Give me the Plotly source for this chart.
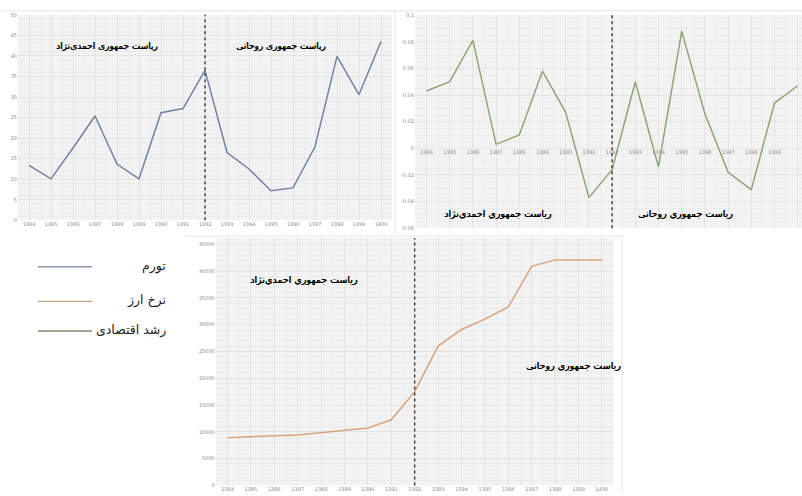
import plotly.graph_objects as go

# Iranian calendar years
years = list(range(1384, 1401))

# Inflation rate (%)
inflation = [13.4, 10.1, 17.6, 25.4, 13.7, 10.1, 26.2, 27.2, 36.5,
             16.5, 12.5, 7.2, 7.9, 17.9, 39.9, 30.6, 43.5]

# Economic growth rate
growth = [0.043, 0.050, 0.081, 0.003, 0.010, 0.058, 0.027, -0.037, -0.016,
          0.050, -0.014, 0.088, 0.026, -0.018, -0.031, 0.034, 0.047]

# Exchange rate (rial per USD)
exchange = [8900, 9150, 9280, 9400, 9830, 10260, 10700, 12250, 17500,
            26000, 29100, 31050, 33300, 40900, 42100, 42100, 42100]

legend_labels = ["تورم", "نرخ ارز", "رشد اقتصادی"]
era_ahmadinejad = "ریاست جمهوری احمدی\u200cنژاد"
era_rouhani = "ریاست جمهوری روحانی"
split_year = 1392

W, H = 802, 496
C_INF = "#7082a6"
C_EXR = "#d9a47c"
C_GRW = "#8ea574"
PLOT_BG = "#f3f3f3"
GRID = "#e3e3e3"
GRID_MINOR = "#ececec"
TICK_FONT = dict(family="DejaVu Sans", size=5, color="#8a8a8a")
ARABIC_FONT = "DejaVu Sans"


def px(x):
    return x / W


def py(y):
    return 1 - y / H


fig = go.Figure()
fig.add_trace(go.Scatter(x=years, y=inflation, mode="lines",
                         line=dict(color=C_INF, width=1.5),
                         xaxis="x", yaxis="y", showlegend=False))
fig.add_trace(go.Scatter(x=years, y=growth, mode="lines",
                         line=dict(color=C_GRW, width=1.5),
                         xaxis="x2", yaxis="y2", showlegend=False))
fig.add_trace(go.Scatter(x=years, y=exchange, mode="lines",
                         line=dict(color=C_EXR, width=1.5),
                         xaxis="x3", yaxis="y3", showlegend=False))


def xaxis_common(**kw):
    d = dict(tickmode="array", tickvals=years, ticktext=[str(v) for v in years],
             tickfont=TICK_FONT, showgrid=True, gridcolor=GRID, gridwidth=0.6,
             minor=dict(dtick=0.5, tick0=1383.5, showgrid=True,
                        gridcolor=GRID_MINOR, gridwidth=0.5),
             zeroline=False, showline=False, ticks="", fixedrange=True)
    d.update(kw)
    return d


def yaxis_common(**kw):
    d = dict(tickfont=TICK_FONT, showgrid=True, gridcolor=GRID, gridwidth=0.6,
             zeroline=False, showline=False, ticks="", fixedrange=True)
    d.update(kw)
    return d


# top-left: inflation
x1_left, x1_right = 18, 392
fig.update_layout(
    xaxis=xaxis_common(domain=[px(x1_left), px(x1_right)],
                       range=[1383.5, 1400.5], anchor="y"),
    yaxis=yaxis_common(domain=[py(220), py(12)], range=[0, 50], dtick=5,
                       anchor="x",
                       minor=dict(dtick=1, showgrid=True, gridcolor=GRID_MINOR,
                                  gridwidth=0.5)),
)

# top-right: economic growth (category labels sit on the zero line)
step2 = 23.2
x2_left = 426.5 - step2 / 2
x2_hi = 1383.5 + (W - x2_left) / step2
fig.update_layout(
    xaxis2=xaxis_common(domain=[px(x2_left), 1], range=[1383.5, x2_hi],
                        anchor="free", position=py(146.7)),
    yaxis2=yaxis_common(domain=[py(228), py(12.3)], range=[-0.06, 0.1],
                        tickvals=[-0.06, -0.04, -0.02, 0, 0.02, 0.04, 0.06, 0.08, 0.1],
                        ticktext=["-0.06", "-0.04", "-0.02", "0", "0.02", "0.04",
                                  "0.06", "0.08", "0.1"],
                        anchor="x2",
                        minor=dict(dtick=0.005, showgrid=True,
                                   gridcolor=GRID_MINOR, gridwidth=0.5)),
)

# bottom: exchange rate
step3 = 23.4
x3_left = 227.5 - step3 / 2
x3_right = x3_left + 17 * step3
fig.update_layout(
    xaxis3=xaxis_common(domain=[px(x3_left), px(x3_right)],
                        range=[1383.5, 1400.5], anchor="y3"),
    yaxis3=yaxis_common(domain=[py(488.3), py(238)],
                        range=[0, 45000 * (488.3 - 238) / (488.3 - 244.3)],
                        dtick=5000, tickformat="d", anchor="x3",
                        minor=dict(dtick=1000, showgrid=True,
                                   gridcolor=GRID_MINOR, gridwidth=0.5)),
)

shapes = []
# dotted separator between the two presidencies
for xr, yr in [("x", "y"), ("x2", "y2"), ("x3", "y3")]:
    shapes.append(dict(type="line", xref=xr, yref=yr + " domain",
                       x0=split_year, x1=split_year, y0=0, y1=1,
                       line=dict(color="#3a3a3a", width=1.4, dash="dot"),
                       layer="above"))

# thin frames round each panel
frame = dict(color="#e3e3e3", width=1)
shapes += [
    dict(type="line", xref="paper", yref="paper", x0=0, x1=1,
         y0=py(8), y1=py(8), line=frame),
    dict(type="line", xref="paper", yref="paper", x0=px(395), x1=px(395),
         y0=py(8), y1=py(234), line=frame),
    dict(type="line", xref="paper", yref="paper", x0=px(185), x1=px(622),
         y0=py(236), y1=py(236), line=frame),
    dict(type="line", xref="paper", yref="paper", x0=px(622), x1=px(622),
         y0=py(236), y1=0, line=frame),
]

# hand-drawn legend
legend_y = [267, 302, 332]
legend_colors = ["#8795a9", "#c9a37f", "#7e8c6c"]
for yy, col in zip(legend_y, legend_colors):
    shapes.append(dict(type="line", xref="paper", yref="paper",
                       x0=px(38), x1=px(92), y0=py(yy), y1=py(yy),
                       line=dict(color=col, width=1.3)))

annotations = []
for label, yy in zip(legend_labels, legend_y):
    annotations.append(dict(text=label, xref="paper", yref="paper",
                            x=px(168), y=py(yy - 1), xanchor="right",
                            yanchor="middle", showarrow=False,
                            font=dict(family=ARABIC_FONT, size=12.5, color="#222")))

era_labels = [
    (era_ahmadinejad, 107, 44, 9),
    (era_rouhani, 281, 44, 9),
    (era_ahmadinejad, 498, 213, 9.5),
    (era_rouhani, 685, 213, 9.5),
    (era_ahmadinejad, 304, 280, 9.5),
    (era_rouhani, 573, 367, 9.5),
]
for text, xx, yy, fs in era_labels:
    annotations.append(dict(text=text, xref="paper", yref="paper",
                            x=px(xx), y=py(yy), xanchor="center",
                            yanchor="middle", showarrow=False,
                            font=dict(family=ARABIC_FONT, size=fs, color="#000",
                                      shadow="0.4px 0px 0px #000")))

fig.update_layout(
    width=W, height=H, margin=dict(l=0, r=0, t=0, b=0),
    paper_bgcolor="white", plot_bgcolor=PLOT_BG,
    shapes=shapes, annotations=annotations, showlegend=False,
)

fig.write_html("out.html", config={"displayModeBar": False})
